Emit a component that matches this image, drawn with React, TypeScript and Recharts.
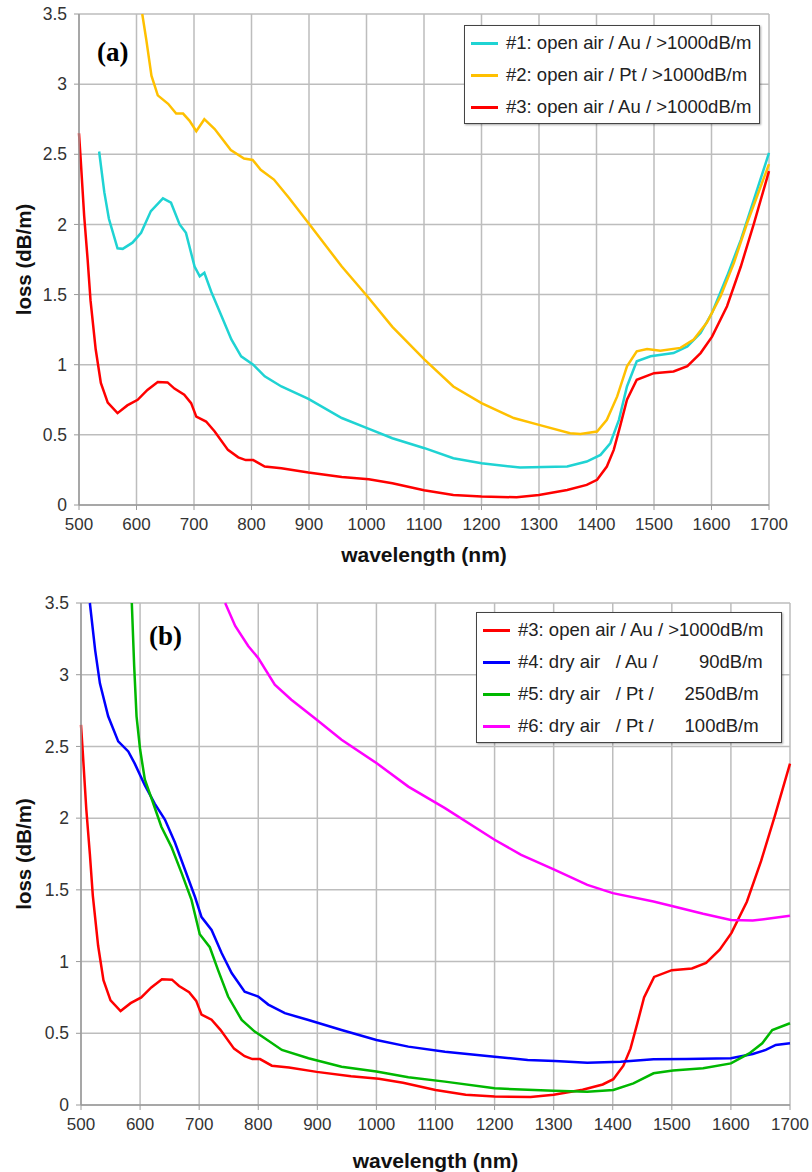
import React from 'react';
import { LineChart, Line, XAxis, YAxis, CartesianGrid, Legend } from 'recharts';

// x ticks (nm) and y ticks (dB/m) shared by both panels
const wavelengthTicks = [500, 600, 700, 800, 900, 1000, 1100, 1200, 1300, 1400, 1500, 1600, 1700];
const lossTicks = [0, 0.5, 1, 1.5, 2, 2.5, 3, 3.5];

// #1: open air / Au
const s1Wl = [535, 544, 552, 567, 576, 593, 608, 625, 646, 660, 675, 686, 701, 710, 718, 730, 748, 765, 782, 803, 823, 852, 899, 957, 1001, 1045, 1101, 1151, 1200, 1267, 1349, 1383, 1407, 1424, 1439, 1453, 1470, 1494, 1534, 1558, 1581, 1601, 1627, 1651, 1674, 1700];
const s1Loss = [2.52, 2.23, 2.04, 1.83, 1.826, 1.87, 1.94, 2.095, 2.186, 2.155, 2.0, 1.94, 1.7, 1.63, 1.655, 1.52, 1.345, 1.18, 1.06, 1.0, 0.917, 0.845, 0.757, 0.62, 0.548, 0.476, 0.405, 0.333, 0.298, 0.267, 0.274, 0.31, 0.357, 0.44, 0.607, 0.845, 1.024, 1.06, 1.083, 1.13, 1.226, 1.37, 1.63, 1.89, 2.18, 2.51];

// #2: open air / Pt
const s2Wl = [610, 617, 626, 637, 655, 669, 681, 692, 704, 718, 736, 764, 787, 802, 816, 839, 865, 899, 957, 1001, 1045, 1101, 1151, 1200, 1256, 1300, 1354, 1372, 1401, 1418, 1436, 1453, 1470, 1488, 1511, 1546, 1569, 1592, 1616, 1639, 1662, 1700];
const s2Loss = [3.5, 3.317, 3.06, 2.92, 2.86, 2.79, 2.79, 2.74, 2.664, 2.75, 2.68, 2.53, 2.47, 2.46, 2.39, 2.32, 2.19, 2.01, 1.7, 1.49, 1.27, 1.036, 0.845, 0.726, 0.62, 0.571, 0.512, 0.507, 0.524, 0.607, 0.774, 0.988, 1.095, 1.112, 1.1, 1.12, 1.18, 1.3, 1.49, 1.726, 2.01, 2.43];

// #3: open air / Au (in both panels)
const s3Wl = [500, 503, 509, 515, 520, 529, 538, 550, 567, 584, 602, 619, 637, 654, 666, 683, 695, 704, 721, 736, 759, 777, 790, 803, 823, 852, 899, 957, 1004, 1045, 1100, 1151, 1200, 1261, 1300, 1349, 1383, 1401, 1418, 1430, 1441, 1453, 1470, 1500, 1534, 1558, 1581, 1601, 1627, 1651, 1674, 1700];
const s3Loss = [2.65, 2.46, 2.06, 1.75, 1.46, 1.11, 0.87, 0.73, 0.655, 0.71, 0.75, 0.82, 0.876, 0.874, 0.83, 0.786, 0.726, 0.63, 0.595, 0.524, 0.393, 0.34, 0.32, 0.32, 0.274, 0.262, 0.231, 0.2, 0.183, 0.155, 0.105, 0.071, 0.06, 0.055, 0.071, 0.107, 0.143, 0.18, 0.274, 0.393, 0.56, 0.75, 0.893, 0.94, 0.952, 0.99, 1.083, 1.2, 1.417, 1.7, 2.01, 2.38];

// #4: dry air / Au
const s4Wl = [515, 524, 532, 546, 563, 580, 591, 608, 625, 642, 659, 676, 693, 704, 721, 738, 755, 777, 800, 817, 845, 885, 941, 1000, 1054, 1116, 1200, 1256, 1302, 1357, 1413, 1469, 1525, 1600, 1637, 1659, 1676, 1700];
const s4Loss = [3.5, 3.17, 2.94, 2.71, 2.535, 2.465, 2.38, 2.23, 2.1, 1.99, 1.83, 1.64, 1.45, 1.31, 1.22, 1.06, 0.92, 0.79, 0.756, 0.7, 0.64, 0.593, 0.523, 0.453, 0.407, 0.372, 0.337, 0.314, 0.307, 0.295, 0.302, 0.319, 0.321, 0.326, 0.356, 0.384, 0.419, 0.43];

// #5: dry air / Pt
const s5Wl = [586, 590, 594, 600, 608, 620, 636, 653, 670, 687, 701, 718, 732, 749, 772, 794, 811, 840, 885, 941, 1000, 1054, 1116, 1200, 1300, 1357, 1401, 1435, 1469, 1502, 1553, 1600, 1631, 1653, 1670, 1700];
const s5Loss = [3.5, 3.06, 2.71, 2.48, 2.27, 2.13, 1.94, 1.8, 1.62, 1.43, 1.19, 1.1, 0.94, 0.756, 0.593, 0.512, 0.465, 0.384, 0.326, 0.267, 0.233, 0.193, 0.163, 0.116, 0.1, 0.093, 0.105, 0.151, 0.221, 0.24, 0.256, 0.29, 0.36, 0.43, 0.523, 0.57];

// #6: dry air / Pt
const s6Wl = [744, 761, 783, 800, 828, 856, 899, 941, 1000, 1054, 1116, 1200, 1245, 1302, 1357, 1400, 1469, 1500, 1553, 1600, 1637, 1665, 1700];
const s6Loss = [3.5, 3.34, 3.2, 3.116, 2.93, 2.826, 2.686, 2.546, 2.384, 2.22, 2.07, 1.849, 1.744, 1.64, 1.535, 1.477, 1.419, 1.388, 1.333, 1.29, 1.286, 1.3, 1.319];

const zip = (wl: number[], loss: number[]) => wl.map((x, i) => ({ x, y: loss[i] }));

const seriesA = [
  { name: '#1: open air / Au / >1000dB/m', color: '#1fd3d3', data: zip(s1Wl, s1Loss) },
  { name: '#2: open air / Pt / >1000dB/m', color: '#ffc000', data: zip(s2Wl, s2Loss) },
  { name: '#3: open air / Au / >1000dB/m', color: '#ff0000', data: zip(s3Wl, s3Loss) },
];

const seriesB = [
  { name: '#3: open air / Au / >1000dB/m', color: '#ff0000', data: zip(s3Wl, s3Loss) },
  { name: '#4: dry air   / Au /        90dB/m', color: '#0000ff', data: zip(s4Wl, s4Loss) },
  { name: '#5: dry air   / Pt /      250dB/m', color: '#00b800', data: zip(s5Wl, s5Loss) },
  { name: '#6: dry air   / Pt /      100dB/m', color: '#ff00ff', data: zip(s6Wl, s6Loss) },
];

const FONT = '"Liberation Sans", Arial, sans-serif';
const GRID = '#bdbdbd';

const LegendBox = ({ payload }: any) => (
  <div
    style={{
      border: '1px solid #444',
      background: '#fff',
      boxShadow: '1px 1px 2px rgba(0,0,0,0.35)',
      padding: '1px 6px 0 6px',
      fontFamily: FONT,
      fontSize: 18.5,
      color: '#222',
    }}
  >
    {(payload || []).map((p: any) => (
      <div key={p.value} style={{ display: 'flex', alignItems: 'center', height: 32 }}>
        <span style={{ display: 'inline-block', width: 27, height: 3, background: p.color, marginRight: 8 }} />
        <span style={{ whiteSpace: 'pre' }}>{p.value}</span>
      </div>
    ))}
  </div>
);

const yTitle = (props: any) => {
  const vb = props.viewBox;
  const cx = 23;
  const cy = vb.y + vb.height / 2;
  return (
    <text
      x={cx}
      y={cy}
      transform={`rotate(-90 ${cx} ${cy})`}
      textAnchor="middle"
      dominantBaseline="central"
      style={{ fontFamily: FONT, fontSize: 20.5, fontWeight: 'bold', fill: '#111' }}
    >
      loss (dB/m)
    </text>
  );
};

const Panel = ({
  series,
  height,
  margin,
  yWidth,
  xHeight,
  xLabelOffset,
  legendPos,
}: {
  series: { name: string; color: string; data: { x: number; y: number }[] }[];
  height: number;
  margin: { top: number; right: number; bottom: number; left: number };
  yWidth: number;
  xHeight: number;
  xLabelOffset: number;
  legendPos: { top: number; left: number; width: number };
}) => (
  <LineChart width={812} height={height} margin={margin}>
    <CartesianGrid stroke={GRID} strokeWidth={1.5} />
    <XAxis
      type="number"
      dataKey="x"
      domain={[500, 1700]}
      ticks={wavelengthTicks}
      interval={0}
      height={xHeight}
      axisLine={{ stroke: '#9a9a9a', strokeWidth: 1.5 }}
      tickLine={{ stroke: '#9a9a9a' }}
      tickSize={5}
      tickMargin={8}
      tick={{ fill: '#333', fontSize: 17, fontFamily: FONT }}
      label={{
        value: 'wavelength (nm)',
        position: 'insideBottom',
        offset: xLabelOffset,
        style: { fontFamily: FONT, fontSize: 21, fontWeight: 'bold', fill: '#111' },
      }}
    />
    <YAxis
      type="number"
      domain={[0, 3.5]}
      ticks={lossTicks}
      interval={0}
      width={yWidth}
      axisLine={{ stroke: '#9a9a9a', strokeWidth: 1.5 }}
      tickLine={{ stroke: '#9a9a9a' }}
      tickSize={5}
      tickMargin={7}
      tick={{ fill: '#333', fontSize: 17.5, fontFamily: FONT }}
      label={{ content: yTitle }}
    />
    <Legend
      layout="vertical"
      align="center"
      verticalAlign="middle"
      content={<LegendBox />}
      wrapperStyle={{ top: legendPos.top, left: legendPos.left, width: legendPos.width, height: 'auto' }}
    />
    {series.map((s) => (
      <Line
        key={s.name}
        data={s.data}
        dataKey="y"
        name={s.name}
        type="linear"
        stroke={s.color}
        strokeWidth={2.5}
        dot={false}
        activeDot={false}
        isAnimationActive={false}
      />
    ))}
  </LineChart>
);

const panelTag: React.CSSProperties = {
  position: 'absolute',
  fontFamily: '"Liberation Serif", "Times New Roman", serif',
  fontWeight: 'bold',
  fontSize: 27,
  lineHeight: '27px',
  color: '#000',
};

export default function App() {
  return (
    <div style={{ position: 'absolute', left: 0, top: 0, width: 812, height: 1172, background: '#fff' }}>
      <div style={{ position: 'absolute', left: 0, top: 0 }}>
        <Panel
          series={seriesA}
          height={572}
          margin={{ top: 14, right: 43, bottom: 0, left: 0 }}
          yWidth={79}
          xHeight={67}
          xLabelOffset={10}
          legendPos={{ top: 25, left: 464, width: 296 }}
        />
      </div>
      <div style={{ ...panelTag, left: 97, top: 39 }}>(a)</div>
      <div style={{ position: 'absolute', left: 0, top: 590 }}>
        <Panel
          series={seriesB}
          height={582}
          margin={{ top: 13, right: 22, bottom: 0, left: 0 }}
          yWidth={81}
          xHeight={67}
          xLabelOffset={4}
          legendPos={{ top: 22, left: 476, width: 306 }}
        />
      </div>
      <div style={{ ...panelTag, left: 149, top: 623 }}>(b)</div>
    </div>
  );
}
